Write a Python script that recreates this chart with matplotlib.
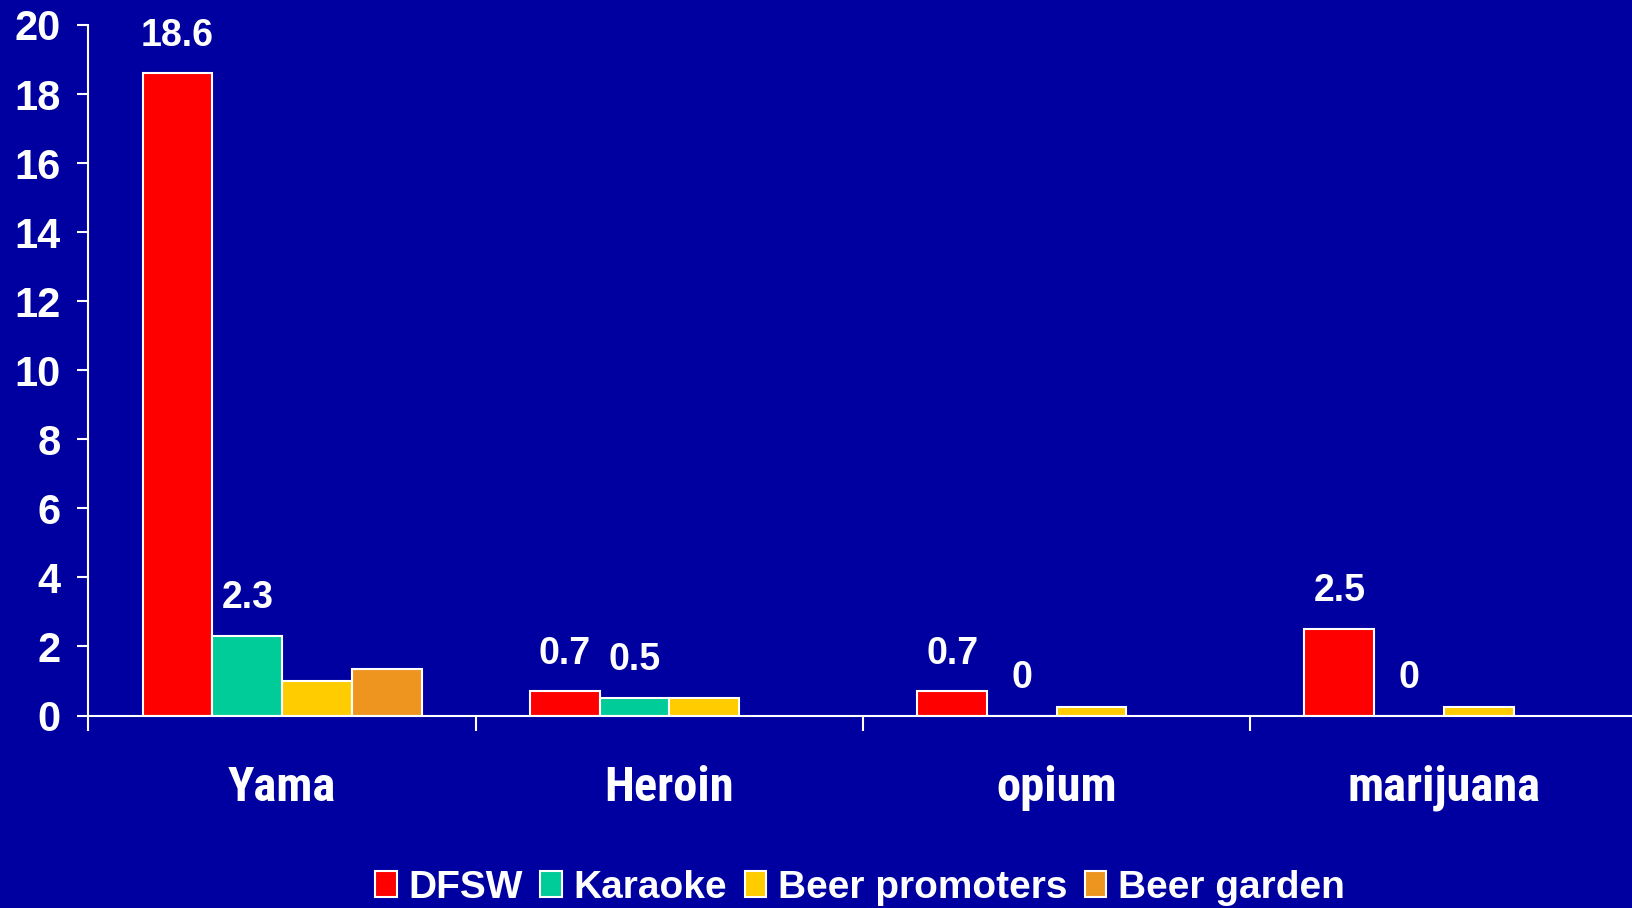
import matplotlib
matplotlib.use("Agg")
import matplotlib.pyplot as plt
import matplotlib.transforms as mtransforms
from matplotlib.patches import Patch
from matplotlib import font_manager
import numpy as np

categories = ["Yama", "Heroin", "opium", "marijuana"]
series_names = ["DFSW", "Karaoke", "Beer promoters", "Beer garden"]
dfsw = [18.6, 0.7, 0.7, 2.5]
karaoke = [2.3, 0.5, 0.0, 0.0]
beer_promoters = [1.0, 0.5, 0.25, 0.25]
beer_garden = [1.35, np.nan, np.nan, np.nan]
labelled = [True, True, False, False]
colors = ["#FF0000", "#00CC99", "#FFCC00", "#EE9520"]
yticks = [0, 2, 4, 6, 8, 10, 12, 14, 16, 18, 20]

names = {f.name for f in font_manager.fontManager.ttflist}
narrow = None
for cand in ["Liberation Sans Narrow", "Arial Narrow", "Roboto Condensed",
             "DejaVu Sans Condensed", "Open Sans Condensed", "Noto Sans Condensed"]:
    if cand in names:
        narrow = cand
        break
plt.rcParams["font.family"] = ["Liberation Sans", "DejaVu Sans"]
plt.rcParams["font.weight"] = "bold"

BG = "#0000A0"
fig = plt.figure(figsize=(16.33, 9.08), dpi=100, facecolor=BG)
ax = fig.add_axes([88.5 / 1633, 1 - 715.5 / 908, 1549 / 1633, 690.5 / 908])
ax.set_facecolor(BG)

series = [dfsw, karaoke, beer_promoters, beer_garden]
bw = 0.18
x = np.arange(len(categories)) + 0.5
for j, vals in enumerate(series):
    xs = x + (j - 1.5) * bw
    vals = np.asarray(vals, dtype=float)
    ok = ~np.isnan(vals)
    ax.bar(xs[ok], vals[ok], width=bw, color=colors[j], edgecolor="white",
           linewidth=1.5, zorder=3)
    if labelled[j]:
        for xi, v in zip(xs[ok], vals[ok]):
            ax.annotate(f"{v:g}", (xi, v), xytext=(0, 20), textcoords="offset points",
                        ha="center", va="baseline", color="white", fontsize=27,
                        fontweight="bold")

ax.set_xlim(0, len(categories))
ax.set_ylim(0, 20)
ax.set_yticks(yticks)
ax.set_yticklabels([str(t) for t in yticks], fontsize=30, fontweight="bold", color="white")
ax.tick_params(axis="y", colors="white", length=8, width=1.5, pad=12)
ax.set_xticks(np.arange(len(categories) + 1))
ax.set_xticklabels([])
ax.tick_params(axis="x", colors="white", length=11, width=1.5, direction="out")
for s in ["top", "right"]:
    ax.spines[s].set_visible(False)
for s in ["left", "bottom"]:
    ax.spines[s].set_color("white")
    ax.spines[s].set_linewidth(1.5)
    ax.spines[s].set_zorder(4)

trans = mtransforms.blended_transform_factory(ax.transData, ax.transAxes)
if narrow is not None:
    cat_family, cat_size = [narrow, "DejaVu Sans"], 35
else:
    cat_family, cat_size = ["Liberation Sans", "DejaVu Sans"], 32
for xi, c in zip(x, categories):
    ax.text(xi, -0.1238, c, transform=trans, ha="center", va="baseline",
            color="white", fontsize=cat_size, fontweight="bold", family=cat_family)

handles = [Patch(facecolor=c, edgecolor="white", linewidth=1.5) for c in colors]
leg = fig.legend(handles, series_names, loc="center", bbox_to_anchor=(0.5266, 1 - 888 / 908),
                 ncol=4, frameon=False, fontsize=28, handlelength=0.55, handleheight=0.65,
                 handletextpad=0.3, columnspacing=0.45, borderpad=0)
for t in leg.get_texts():
    t.set_color("white")
    t.set_fontweight("bold")

fig.savefig("out.png", dpi=100, facecolor=BG)
